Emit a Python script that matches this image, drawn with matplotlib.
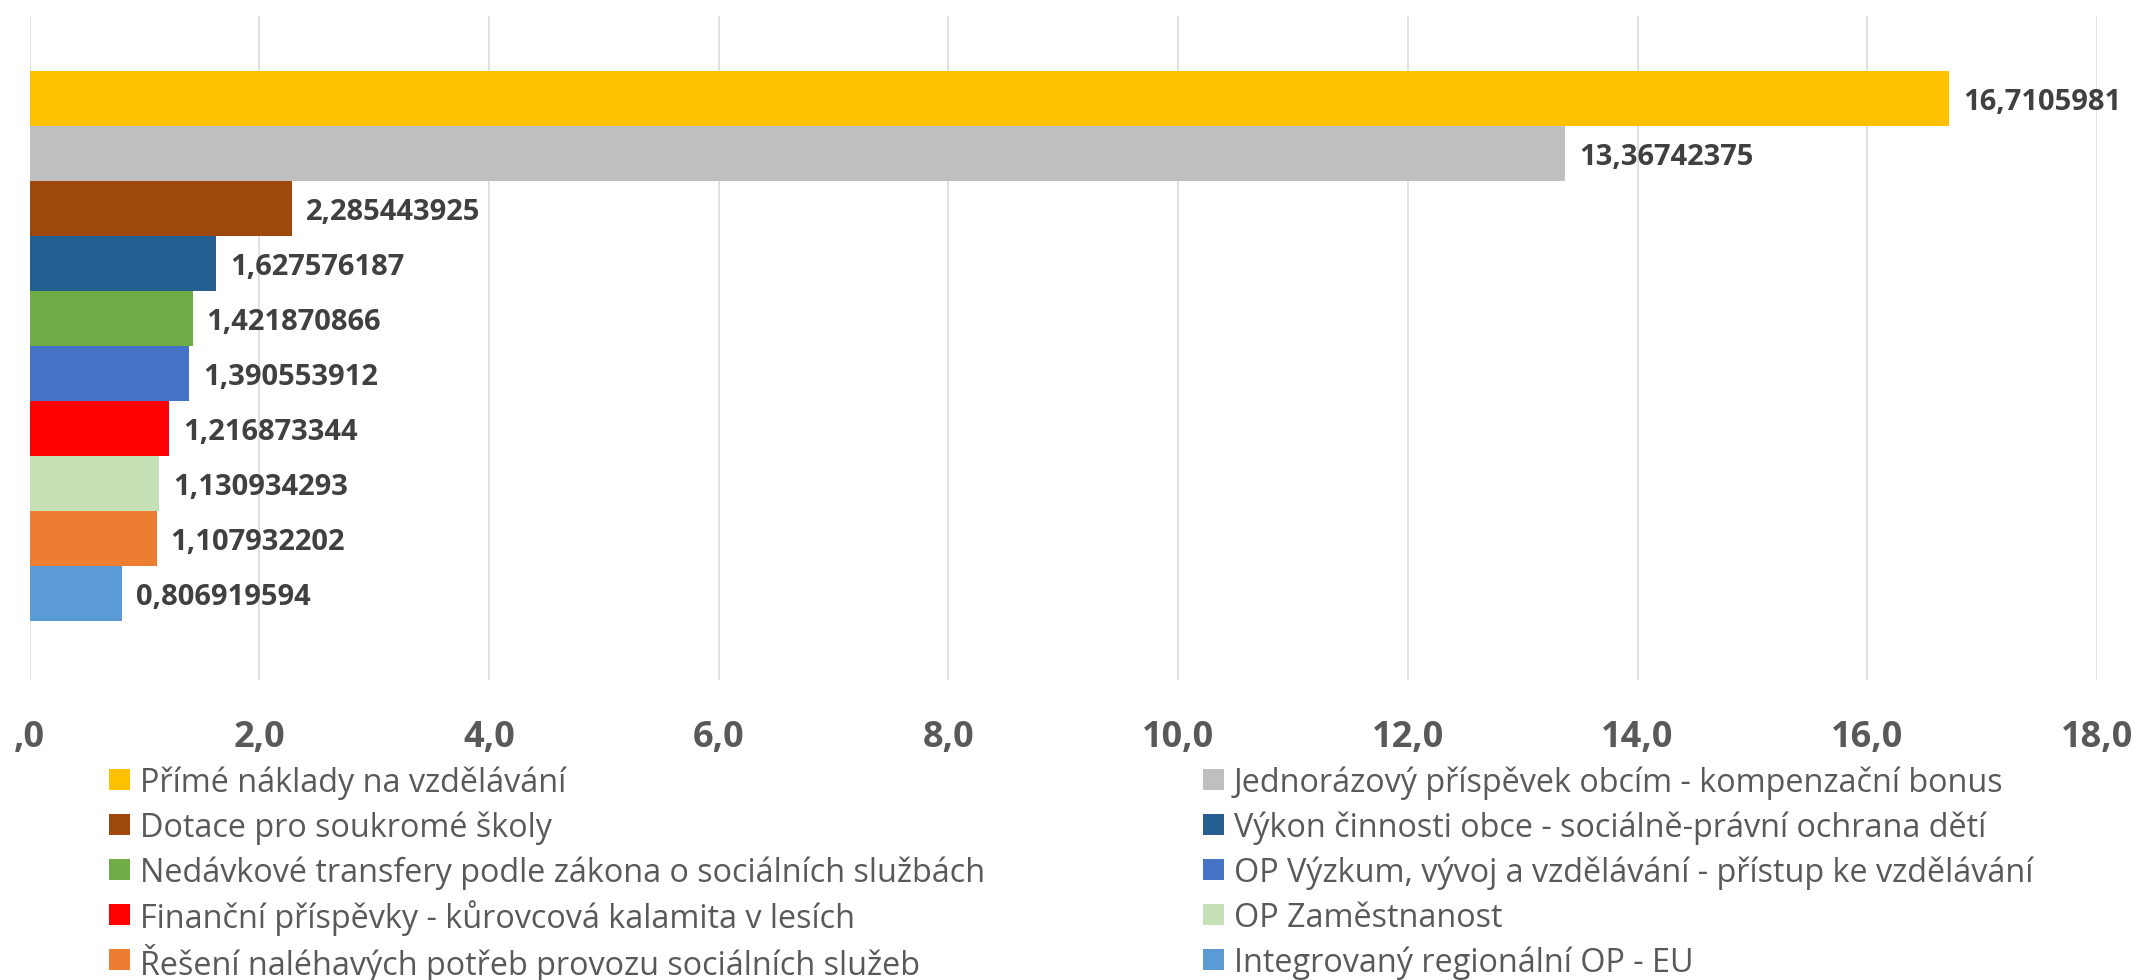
import matplotlib
matplotlib.use("Agg")
import matplotlib.pyplot as plt
from matplotlib.patches import Rectangle

categories = [
    "Přímé náklady na vzdělávání",
    "Jednorázový příspěvek obcím - kompenzační bonus",
    "Dotace pro soukromé školy",
    "Výkon činnosti obce - sociálně-právní ochrana dětí",
    "Nedávkové transfery podle zákona o sociálních službách",
    "OP Výzkum, vývoj a vzdělávání - přístup ke vzdělávání",
    "Finanční příspěvky - kůrovcová kalamita v lesích",
    "OP Zaměstnanost",
    "Řešení naléhavých potřeb provozu sociálních služeb",
    "Integrovaný regionální OP - EU",
]
values = [16.7105981, 13.36742375, 2.285443925, 1.627576187, 1.421870866,
          1.390553912, 1.216873344, 1.130934293, 1.107932202, 0.806919594]
value_labels = ["16,7105981", "13,36742375", "2,285443925", "1,627576187", "1,421870866",
                "1,390553912", "1,216873344", "1,130934293", "1,107932202", "0,806919594"]
colors = ["#FFC000", "#BFBFBF", "#9E480E", "#255E91", "#70AD47",
          "#4472C4", "#FF0000", "#C5E0B4", "#ED7D31", "#5B9BD5"]
xticks = [0, 2, 4, 6, 8, 10, 12, 14, 16, 18]
xtick_labels = [",0", "2,0", "4,0", "6,0", "8,0", "10,0", "12,0", "14,0", "16,0", "18,0"]

W, H = 2138, 980
fig = plt.figure(figsize=(W / 100, H / 100), dpi=100)
ax = fig.add_axes([29.5 / W, 1 - 680 / H, (2097 - 29.5) / W, (680 - 16) / H])

FONT = "Open Sans"
for i, (v, c) in enumerate(zip(values, colors)):
    ax.barh(i, v, height=1.0, color=c, zorder=2)
    ax.annotate(value_labels[i], xy=(v, i), xytext=(10, 0), textcoords="offset points",
                va="center_baseline", ha="left", fontsize=21, fontweight="bold",
                family=FONT, color="#404040", zorder=3)

ax.set_xlim(0, 18)
ax.set_ylim(9.5 + 1.07, -1.5)
ax.set_xticks(xticks)
ax.set_xticklabels(xtick_labels, fontsize=26, fontweight="bold", family=FONT, color="#595959")
ax.set_yticks([])
ax.tick_params(axis="x", length=0, pad=29)
for s in ax.spines.values():
    s.set_visible(False)
ax.grid(axis="x", color="#D9D9D9", linewidth=1.1, zorder=0)
ax.set_axisbelow(True)

# legend (two columns, row-major order)
for idx, (name, c) in enumerate(zip(categories, colors)):
    r, col = divmod(idx, 2)
    mx = 109 if col == 0 else 1203
    tx = 140 if col == 0 else 1234
    yc = 779.5 + 45 * r
    fig.add_artist(Rectangle((mx / W, 1 - (yc + 10.5) / H), 21 / W, 21 / H,
                             transform=fig.transFigure, facecolor=c, edgecolor="none"))
    fig.text(tx / W, 1 - yc / H, name, fontsize=23.3, family=FONT, color="#595959",
             va="center_baseline", ha="left")

fig.savefig("out.png", dpi=100)
